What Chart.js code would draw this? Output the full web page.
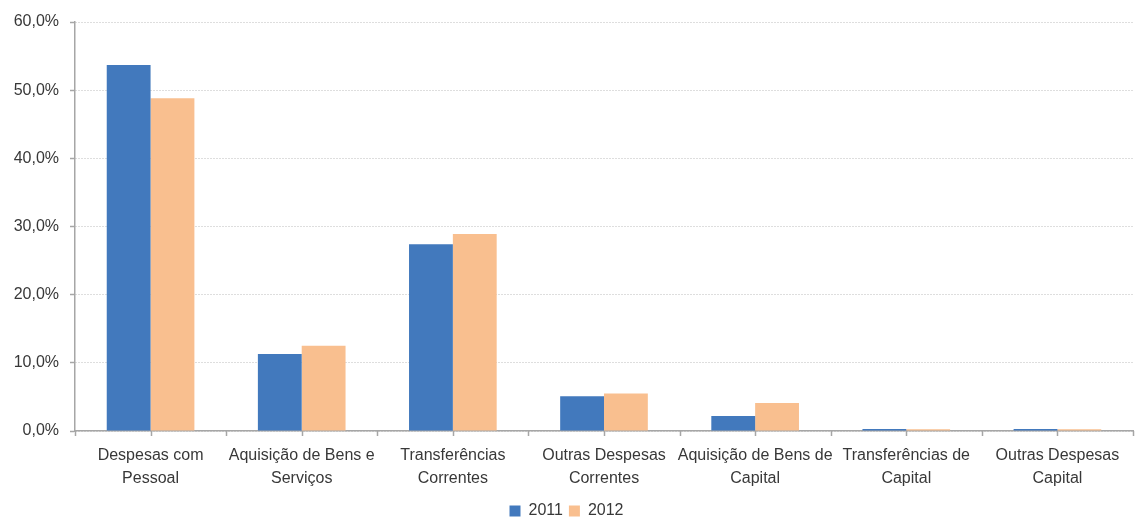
<!DOCTYPE html>
<html>
<head>
<meta charset="utf-8">
<script src="https://cdn.jsdelivr.net/npm/chart.js@4"></script>
<style>
  html, body { margin: 0; padding: 0; background: #fff; }
  #wrap { width: 1135px; height: 518px; }
</style>
</head>
<body>
<div id="wrap"><canvas id="c" width="1135" height="518"></canvas></div>
<script>
// Categories of expenditure (two-line labels)
const categories = [
  ['Despesas com', 'Pessoal'],
  ['Aquisição de Bens e', 'Serviços'],
  ['Transferências', 'Correntes'],
  ['Outras Despesas', 'Correntes'],
  ['Aquisição de Bens de', 'Capital'],
  ['Transferências de', 'Capital'],
  ['Outras Despesas', 'Capital']
];
const seriesNames = ['2011', '2012'];
// Share of total expenditure, in percent
const values2011 = [53.7, 11.3, 27.4, 5.1, 2.2, 0.3, 0.3];
const values2012 = [48.8, 12.5, 28.9, 5.5, 4.1, 0.25, 0.25];
const yTicks = [0, 10, 20, 30, 40, 50, 60];

const FONT = "'Liberation Sans', Arial, sans-serif";
const TEXT = '#383838';
const AXIS = '#a6a6a6';

// Small tick marks under the x axis, at category edges and centres
const xTickMarks = {
  id: 'xTickMarks',
  afterDatasetsDraw(chart) {
    const x = chart.scales.x;
    const ctx = chart.ctx;
    const n = chart.data.labels.length;
    const y0 = x.top;
    const half = (x.getPixelForValue(1) - x.getPixelForValue(0)) / 2;
    ctx.save();
    ctx.strokeStyle = AXIS;
    ctx.lineWidth = 1.5;
    ctx.beginPath();
    for (let i = 0; i < n; i++) {
      const c = x.getPixelForValue(i);
      const marks = [c - half, c];
      if (i === n - 1) marks.push(c + half);
      marks.forEach(px => {
        ctx.moveTo(Math.round(px) + 0.5, y0);
        ctx.lineTo(Math.round(px) + 0.5, y0 + 5);
      });
    }
    ctx.stroke();
    ctx.restore();
  }
};

new Chart(document.getElementById('c'), {
  type: 'bar',
  data: {
    labels: categories,
    datasets: [
      { label: seriesNames[0], data: values2011, backgroundColor: '#4279bd' },
      { label: seriesNames[1], data: values2012, backgroundColor: '#f9bf8f' }
    ]
  },
  options: {
    responsive: false,
    animation: false,
    devicePixelRatio: 1,
    layout: { padding: { top: 22, right: 2, left: 0, bottom: -11 } },
    datasets: { bar: { categoryPercentage: 0.58, barPercentage: 1.0 } },
    plugins: {
      tooltip: { enabled: false },
      legend: {
        position: 'bottom',
        labels: {
          boxWidth: 11, boxHeight: 11, padding: 6,
          color: TEXT,
          font: { family: FONT, size: 16 }
        }
      }
    },
    scales: {
      x: {
        grid: { display: false },
        border: { display: true, color: AXIS, width: 1.5 },
        ticks: {
          color: TEXT,
          font: { family: FONT, size: 16, lineHeight: 1.45 },
          maxRotation: 0, autoSkip: false, padding: 5
        },
        afterFit(s) { s.height = 66; }
      },
      y: {
        min: 0, max: 60,
        afterBuildTicks(s) { s.ticks = yTicks.map(v => ({ value: v })); },
        grid: {
          color: '#bdbdbd', lineWidth: 1,
          drawTicks: true, tickLength: 5,
          tickColor: AXIS, tickBorderDash: [], tickWidth: 1.5
        },
        border: { display: true, color: AXIS, width: 1.5, dash: [1, 2] },
        ticks: {
          color: TEXT,
          font: { family: FONT, size: 16 },
          padding: 11,
          callback: v => v.toFixed(1).replace('.', ',') + '%'
        },
        afterFit(s) { s.width = 75; }
      }
    }
  },
  plugins: [xTickMarks]
});
</script>
</body>
</html>
